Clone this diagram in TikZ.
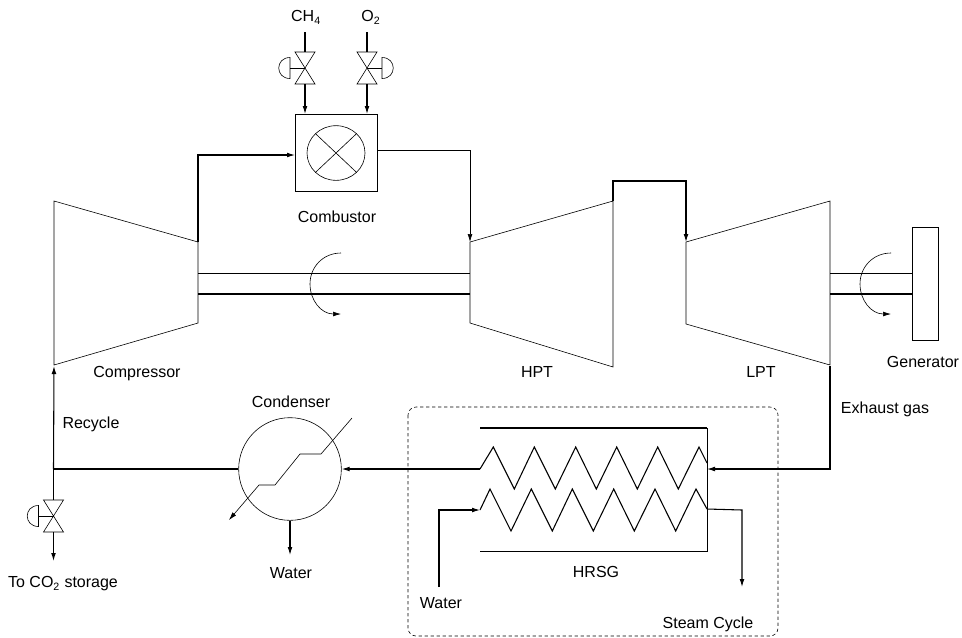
\documentclass[tikz,border=0pt]{standalone}
\usepackage{fontspec}
\setmainfont{Liberation Sans}
\usetikzlibrary{arrows.meta,shapes.geometric}

\tikzset{
	lbl/.style={inner sep=0pt,text height=8.6pt,text depth=0pt,font=\fontsize{12}{14}\selectfont},
	thin line/.style={line width=0.45pt},
	flow/.style={line width=0.8pt},
	tip/.style={-{Latex[length=6pt,width=3.6pt]}},
	valve/.pic={
		\draw[thin line] (-10,-16) -- (10,-16) -- (-10,16) -- (10,16) -- cycle;
		\draw[thin line] (0,0) -- (-15,0);
		\draw[thin line] (-15,-10.5) .. controls (-30,-10.5) and (-30,10.5) .. (-15,10.5) -- cycle;
		\coordinate (-in) at (0,-16);
		\coordinate (-out) at (0,16);
	},
	spin/.pic={
		\draw[thin line,tip] (0,-31) .. controls (-18,-31) and (-31,-17) .. (-31,0)
			.. controls (-31,16) and (-20,30) .. (0,30);
	}
}

\begin{document}
\begin{tikzpicture}[x=0.75pt,y=-0.75pt]
	\useasboundingbox (0,0) rectangle (962,637);

	% machines
	\draw[thin line] (54,201) -- (198,242) -- (198,323) -- (54,365) -- cycle;
	\draw[thin line] (470,242) -- (613,201) -- (613,367) -- (470,323) -- cycle;
	\draw[thin line] (686,242) -- (830,201) -- (830,365) -- (686,324) -- cycle;
	\node[draw,thin line,minimum width=19.5pt,minimum height=84.75pt,inner sep=0pt] (gen) at (925,283.5) {};
	\coordinate (compin) at (54,366);
	\coordinate (compout) at (198,242);
	\coordinate (hptin) at (470,242);
	\coordinate (hptout) at (613,201);
	\coordinate (lptin) at (686,242);
	\coordinate (lptout) at (830,366);

	% shafts
	\draw[thin line] (198,273) -- (470,273);
	\draw[flow] (198,294) -- (470,294);
	\draw[thin line] (830,273) -- (912,273);
	\draw[flow] (830,294) -- (912,294);
	\pic at (341,284) {spin};
	\pic at (891,284) {spin};

	% combustor
	\node[draw,thin line,minimum width=61.5pt,minimum height=57.75pt,inner sep=0pt] (comb) at (336,152.5) {};
	\node[draw,ellipse,thin line,minimum width=43.5pt,minimum height=41pt,inner sep=0pt] (burner) at (336,153) {};
	\draw[thin line] (burner.north west) -- (burner.south east);
	\draw[thin line] (burner.north east) -- (burner.south west);
	\node[lbl] (comblbl) at (337,217) {Combustor};

	\node[lbl] (ch4) at (306,16) {CH\textsubscript{4}};
	\node[lbl] (o2) at (371,16) {O\textsubscript{2}};
	\coordinate (ch4top) at (305,32);
	\coordinate (o2top) at (367,32);
	\pic (vch) at (305,68) {valve};
	\pic[xscale=-1] (vox) at (367,68) {valve};
	\draw[flow] (ch4top) -- (vch-in);
	\draw[flow] (o2top) -- (vox-in);
	\draw[flow,tip] (vch-out) -- (305,114);
	\draw[flow,tip] (vox-out) -- (367,114);

	\draw[flow,tip] (compout) -- (198,155) -- (295,155);
	\draw[thin line,tip] (377,150) -- (470,150) -- (hptin);
	\draw[flow,tip] (hptout) -- (613,181) -- (686,181) -- (lptin);

	\node[lbl] (complbl) at (137,372) {Compressor};
	\node[lbl] (hptlbl) at (537,372) {HPT};
	\node[lbl] (lptlbl) at (761,372) {LPT};
	\node[lbl] (genlbl) at (923,362) {Generator};
	\node[lbl] (exhlbl) at (885,408) {Exhaust gas};
	\node[lbl] (reclbl) at (91,423) {Recycle};

	% condenser
	\node[draw,circle,thin line,minimum size=77pt,inner sep=0pt] (cond) at (290,469) {};
	\node[lbl] (condlbl) at (291,402) {Condenser};
	\draw[thin line,tip] (352,418) -- (321,454) -- (300,454) -- (275,485) -- (259,485) -- (229,520);
	\draw[flow,tip] (cond.south) -- (290,555);
	\node[lbl] (condwater) at (291,573) {Water};

	% recycle and storage
	\coordinate (junc) at (53.5,469);
	\pic (vco) at (53.5,516) {valve};
	\draw[flow] (cond.west) -- (junc);
	\draw[flow,tip] (junc) -- (compin);
	\draw[flow] (junc) -- (vco-in);
	\draw[flow,tip] (vco-out) -- (53.5,561);
	\node[lbl] (co2) at (63,582) {To CO\textsubscript{2} storage};

	% hrsg
	\draw[thin line,dash pattern=on 2.5pt off 2pt,rounded corners=6pt] (408,407) rectangle (778,636);
	\draw[flow] (480,428) -- (707,428);
	\draw[thin line] (707,428) -- (707,551) -- (480,551);
	\draw[flow] (480,469) -- (493.3,447) -- (514.3,489) -- (534.3,447) -- (555.3,489) -- (575.7,447) -- (596.3,489)
		-- (616.7,447) -- (637.3,489) -- (657.7,447) -- (678.3,489) -- (699,447) -- (707,463);
	\draw[flow] (480,510) -- (490,489) -- (511,531) -- (531.3,489) -- (552.3,531) -- (572.3,489) -- (593.3,531)
		-- (613.7,489) -- (634.3,531) -- (655,489) -- (675.7,531) -- (696,489) -- (707,509);
	\draw[flow,tip] (lptout) -- (830,469) -- (707,469);
	\draw[flow,tip] (480,469) -- (cond.east);
	\draw[flow,tip] (439,587) -- (439,510) -- (480,510);
	\draw[flow,tip] (707,509) -- (742,510) -- (742,587);
	\node[lbl] (hrsglbl) at (596,572) {HRSG};
	\node[lbl] (hrsgwater) at (441,603) {Water};
	\node[lbl] (steam) at (708,623) {Steam Cycle};
\end{tikzpicture}
\end{document}
